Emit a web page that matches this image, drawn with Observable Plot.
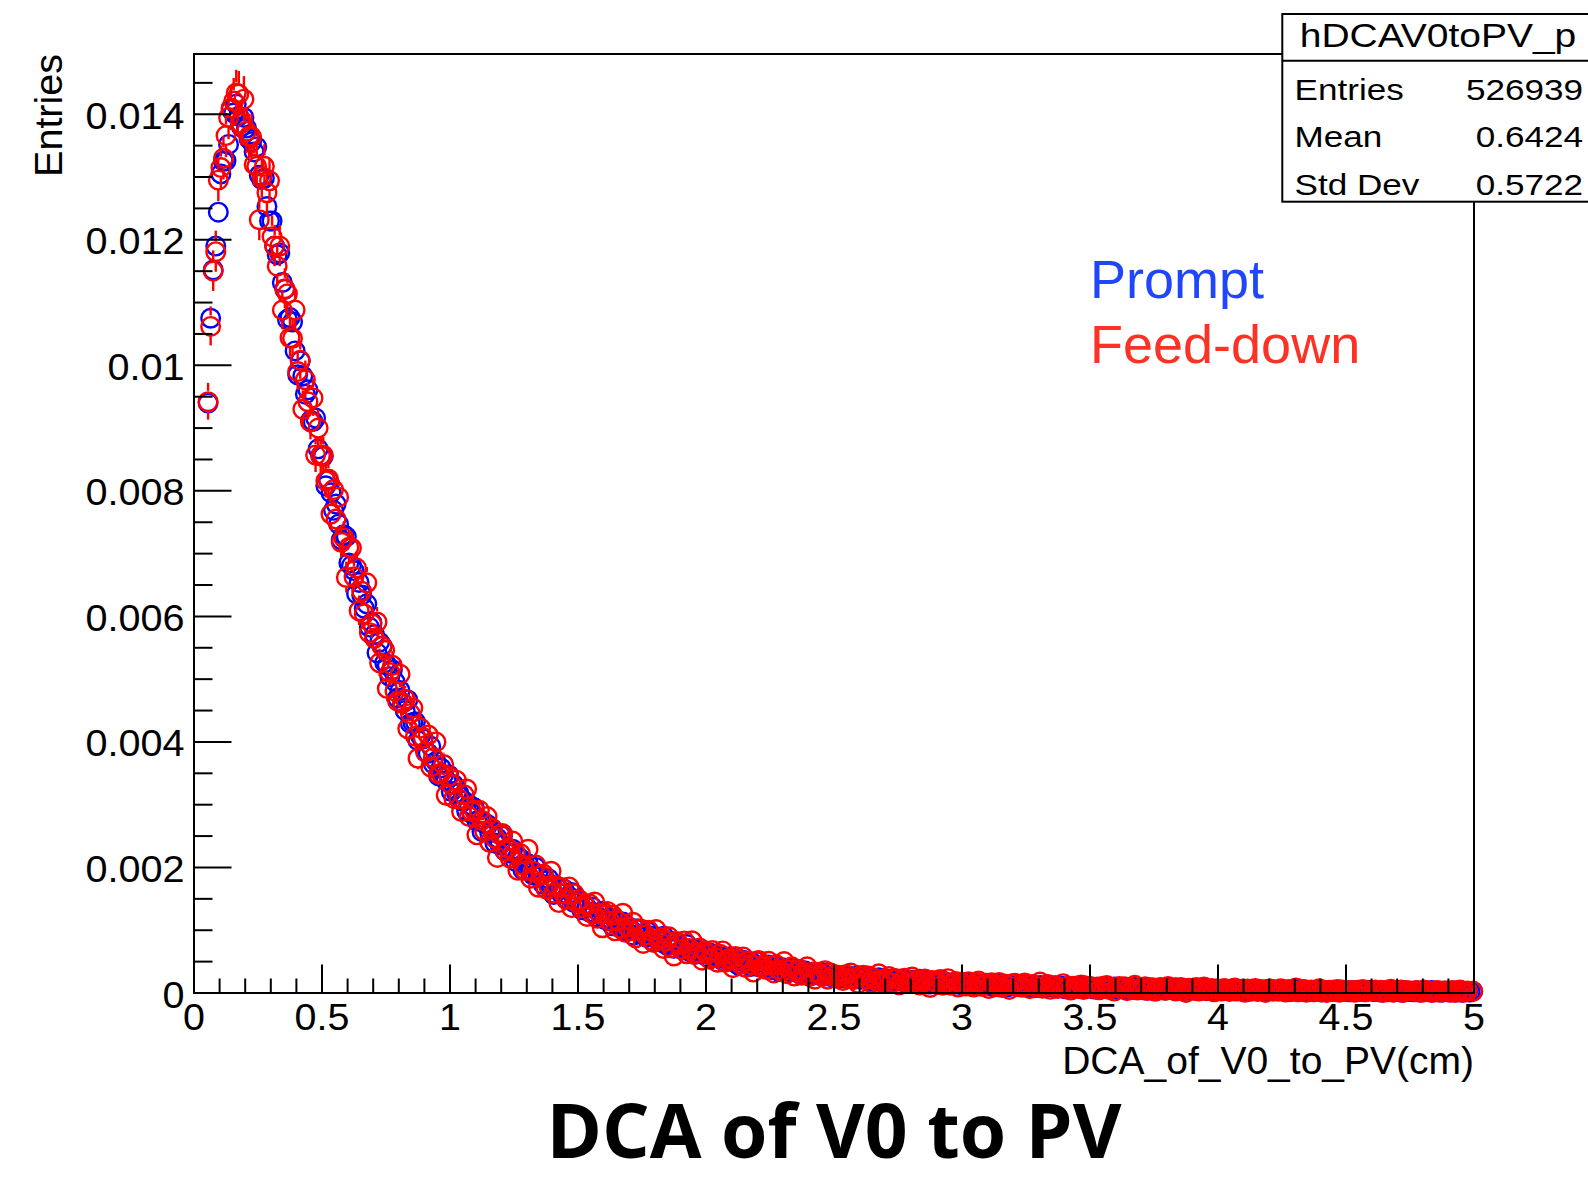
<!DOCTYPE html>
<html>
<head>
<meta charset="utf-8">
<script src="https://cdn.jsdelivr.net/npm/d3@7"></script>
<script src="https://cdn.jsdelivr.net/npm/@observablehq/plot@0.6"></script>
<style>
html, body { margin: 0; padding: 0; background: #fff; overflow: hidden; }
#chart { width: 1588px; height: 1181px; position: relative; }
</style>
</head>
<body>
<div id="chart"></div>
<script>
// Histogram binning (bin width 0.01 cm, first filled bin starts at 0.05)
const binLow = 0.05;
const binWidth = 0.01;

// Prompt (blue) normalised bin contents, bins 0.05-0.06 ... 4.99-5.00
const promptValues = [
94e-4,107.5e-4,115.2e-4,119e-4,124.4e-4,130.5e-4,132.5e-4,132.6e-4,135.2e-4,140.8e-4,
140.2e-4,141.6e-4,139.7e-4,138e-4,139.5e-4,137.8e-4,136.1e-4,135.6e-4,134e-4,134.8e-4,
130.3e-4,129.6e-4,129.8e-4,125.3e-4,123e-4,123e-4,119e-4,117.6e-4,117.9e-4,113.2e-4,
112.1e-4,107.3e-4,107.6e-4,106.9e-4,102.3e-4,98.5e-4,100.7e-4,98.3e-4,95.4e-4,96.1e-4,
91.2e-4,91.05e-4,91.6e-4,86.7e-4,85.6e-4,85.5e-4,80.8e-4,81.7e-4,79.7e-4,76.9e-4,
77.9e-4,74.7e-4,72.2e-4,73e-4,72.7e-4,68.5e-4,68.1e-4,67.3e-4,63.6e-4,65.4e-4,
63.4e-4,61.3e-4,62e-4,58.3e-4,59e-4,57.1e-4,54.2e-4,55.9e-4,55.3e-4,52.6e-4,
52.2e-4,50.4e-4,51.5e-4,49.6e-4,47e-4,48.2e-4,46.2e-4,45e-4,46.7e-4,42.95e-4,
43.1e-4,43.2e-4,40.2e-4,40.9e-4,40.5e-4,38.4e-4,38.2e-4,39.3e-4,36.5e-4,36.9e-4,
34.6e-4,35.85e-4,34.8e-4,33.8e-4,34.75e-4,32.1e-4,33.2e-4,31.9e-4,31.8e-4,30.6e-4,
30.6e-4,29e-4,30e-4,28.6e-4,29.5e-4,27.4e-4,27.55e-4,25.7e-4,27e-4,26.9e-4,
25.55e-4,25.9e-4,23.9e-4,24.7e-4,23.6e-4,25e-4,22.6e-4,22.97e-4,22.3e-4,22.9e-4,
21e-4,21.7e-4,21.4e-4,19.6e-4,20.3e-4,20.6e-4,19.3e-4,18.8e-4,20e-4,18.6e-4,
18.7e-4,17.3e-4,17.9e-4,18.2e-4,16.8e-4,15.7e-4,17.05e-4,16.5e-4,15.8e-4,16.55e-4,
15e-4,15.4e-4,16e-4,14.4e-4,14.4e-4,14.74e-4,13.25e-4,14.05e-4,13.6e-4,12.9e-4,
13.7e-4,12.75e-4,12.1e-4,12.8e-4,13e-4,11.7e-4,11.86e-4,11.85e-4,10.7e-4,11.74e-4,
11.2e-4,10.7e-4,11.3e-4,10.05e-4,10.6e-4,10.16e-4,9.2e-4,10.2e-4,10.2e-4,9.37e-4,
9.46e-4,8.93e-4,9.7e-4,9.1e-4,8.24e-4,8.98e-4,8.4e-4,8.1e-4,9.06e-4,7.67e-4,
7.97e-4,8.22e-4,7.14e-4,7.65e-4,7.67e-4,6.96e-4,7.06e-4,7.72e-4,6.64e-4,6.96e-4,
6.12e-4,6.8e-4,6.48e-4,6.2e-4,6.75e-4,5.75e-4,6.37e-4,5.93e-4,6.03e-4,5.63e-4,
5.77e-4,5.17e-4,5.74e-4,5.26e-4,5.78e-4,4.99e-4,5.15e-4,4.48e-4,5.14e-4,5.2e-4,
4.73e-4,4.98e-4,4.21e-4,4.68e-4,4.31e-4,4.99e-4,4.07e-4,4.32e-4,4.11e-4,4.48e-4,
3.74e-4,4.12e-4,4.11e-4,3.42e-4,3.79e-4,4e-4,3.53e-4,3.39e-4,3.98e-4,3.45e-4,
3.59e-4,3.05e-4,3.39e-4,3.56e-4,3.03e-4,2.65e-4,3.29e-4,3.15e-4,2.9e-4,3.29e-4,
2.67e-4,2.9e-4,3.24e-4,2.62e-4,2.66e-4,2.88e-4,2.31e-4,2.71e-4,2.59e-4,2.34e-4,
2.75e-4,2.41e-4,2.19e-4,2.57e-4,2.73e-4,2.19e-4,2.33e-4,2.38e-4,1.92e-4,2.46e-4,
2.28e-4,2.1e-4,2.43e-4,1.92e-4,2.24e-4,2.07e-4,1.69e-4,2.2e-4,2.26e-4,1.91e-4,
2.01e-4,1.82e-4,2.2e-4,2e-4,1.63e-4,2.02e-4,1.79e-4,1.7e-4,2.19e-4,1.58e-4,
1.76e-4,1.92e-4,1.45e-4,1.73e-4,1.79e-4,1.48e-4,1.57e-4,1.91e-4,1.44e-4,1.63e-4,
1.27e-4,1.62e-4,1.51e-4,1.41e-4,1.71e-4,1.25e-4,1.58e-4,1.4e-4,1.49e-4,1.32e-4,
1.42e-4,1.17e-4,1.47e-4,1.27e-4,1.55e-4,1.19e-4,1.31e-4,0.995e-4,1.36e-4,1.42e-4,
1.21e-4,1.36e-4,0.997e-4,1.26e-4,1.1e-4,1.47e-4,1.03e-4,1.18e-4,1.09e-4,1.31e-4,
0.95e-4,1.17e-4,1.19e-4,0.85e-4,1.065e-4,1.2e-4,0.97e-4,0.92e-4,1.26e-4,0.996e-4,
1.08e-4,0.81e-4,1.02e-4,1.13e-4,0.86e-4,0.67e-4,1.04e-4,0.98e-4,0.865e-4,1.09e-4,
0.77e-4,0.915e-4,1.12e-4,0.79e-4,0.835e-4,0.97e-4,0.65e-4,0.9e-4,0.84e-4,0.7e-4,
0.94e-4,0.76e-4,0.64e-4,0.87e-4,0.97e-4,0.67e-4,0.758e-4,0.8e-4,0.54e-4,0.85e-4,
0.76e-4,0.66e-4,0.86e-4,0.58e-4,0.77e-4,0.68e-4,0.46e-4,0.76e-4,0.8e-4,0.615e-4,
0.675e-4,0.57e-4,0.8e-4,0.69e-4,0.48e-4,0.72e-4,0.59e-4,0.54e-4,0.835e-4,0.49e-4,
0.6e-4,0.7e-4,0.43e-4,0.6e-4,0.63e-4,0.46e-4,0.52e-4,0.73e-4,0.46e-4,0.57e-4,
0.37e-4,0.58e-4,0.517e-4,0.46e-4,0.64e-4,0.38e-4,0.58e-4,0.48e-4,0.53e-4,0.44e-4,
0.51e-4,0.36e-4,0.54e-4,0.43e-4,0.6e-4,0.39e-4,0.46e-4,0.28e-4,0.5e-4,0.54e-4,
0.42e-4,0.51e-4,0.3e-4,0.46e-4,0.37e-4,0.59e-4,0.33e-4,0.43e-4,0.38e-4,0.51e-4,
0.3e-4,0.44e-4,0.45e-4,0.25e-4,0.383e-4,0.46e-4,0.33e-4,0.31e-4,0.51e-4,0.36e-4,
0.41e-4,0.25e-4,0.38e-4,0.45e-4,0.29e-4,0.17e-4,0.41e-4,0.37e-4,0.3e-4,0.44e-4,
0.25e-4,0.34e-4,0.47e-4,0.27e-4,0.3e-4,0.38e-4,0.2e-4,0.35e-4,0.31e-4,0.23e-4,
0.38e-4,0.28e-4,0.21e-4,0.34e-4,0.41e-4,0.23e-4,0.284e-4,0.31e-4,0.155e-4,0.35e-4,
0.3e-4,0.24e-4,0.36e-4,0.19e-4,0.31e-4,0.255e-4,0.13e-4,0.31e-4,0.34e-4,0.22e-4,
0.26e-4,0.2e-4,0.35e-4,0.28e-4,0.15e-4,0.3e-4,0.22e-4,0.19e-4,0.38e-4,0.16e-4,
0.23e-4,0.3e-4,0.13e-4,0.24e-4,0.27e-4,0.16e-4,0.2e-4,0.33e-4,0.16e-4,0.24e-4,
0.11e-4,0.24e-4,0.204e-4,0.17e-4,0.29e-4
];

// Feed-down (red) normalised bin contents, same binning (0 = empty bin, not drawn)
const feeddownValues = [
94.2e-4,106.2e-4,115e-4,118.1e-4,129.5e-4,131.5e-4,133e-4,136.6e-4,139.5e-4,141e-4,
142.1e-4,143.4e-4,143.2e-4,138.5e-4,142.4e-4,137.3e-4,136.5e-4,136.4e-4,132e-4,131.7e-4,
123.2e-4,130.1e-4,131.7e-4,127.5e-4,129.4e-4,120.5e-4,119e-4,115.8e-4,119e-4,108.8e-4,
112.2e-4,111.4e-4,104.4e-4,104.3e-4,108.8e-4,99e-4,100.8e-4,93e-4,97.7e-4,94.2e-4,
91e-4,94.8e-4,85.7e-4,90e-4,85.6e-4,85.7e-4,81.6e-4,81.9e-4,76.3e-4,80.2e-4,
75.5e-4,79e-4,71.8e-4,72.5e-4,66.2e-4,71e-4,70.9e-4,66.3e-4,67.7e-4,60.9e-4,
64e-4,60.4e-4,65.35e-4,57.4e-4,58.8e-4,56.5e-4,59.1e-4,52.6e-4,55.2e-4,54.6e-4,
48.5e-4,51.05e-4,52.2e-4,48.1e-4,46.5e-4,50.8e-4,46.2e-4,46.8e-4,42.1e-4,44.5e-4,
45.4e-4,40.9e-4,37.4e-4,42.2e-4,40.65e-4,38.4e-4,41.1e-4,36e-4,37.5e-4,40e-4,
34.9e-4,35e-4,36.4e-4,31.5e-4,34.5e-4,33.2e-4,31e-4,33.9e-4,30.9e-4,28.9e-4,
31.6e-4,32.5e-4,28.1e-4,28.9e-4,29.1e-4,25.2e-4,29.1e-4,27.5e-4,25.8e-4,28.1e-4,
24e-4,26.2e-4,24.7e-4,21.6e-4,25.2e-4,25.4e-4,22.65e-4,23.1e-4,21.5e-4,24.2e-4,
22.4e-4,19.55e-4,22.2e-4,20.4e-4,19.5e-4,22.9e-4,18.3e-4,19.4e-4,20.4e-4,16.85e-4,
18.75e-4,18.95e-4,16.6e-4,17.1e-4,19.4e-4,15.9e-4,17.1e-4,14.4e-4,16.8e-4,15.8e-4,
14.9e-4,16.9e-4,13.6e-4,15.8e-4,14.4e-4,14.84e-4,13.6e-4,14.1e-4,12.2e-4,14.2e-4,
12.7e-4,14.5e-4,11.9e-4,12.6e-4,10.4e-4,12.7e-4,13e-4,11.45e-4,12.4e-4,9.9e-4,
11.5e-4,10.3e-4,12.7e-4,9.67e-4,10.56e-4,9.9e-4,11.27e-4,8.8e-4,10.2e-4,10.2e-4,
7.9e-4,9.22e-4,10e-4,8.47e-4,8.06e-4,10.1e-4,8.39e-4,8.86e-4,7.08e-4,8.32e-4,
8.95e-4,7.21e-4,5.9e-4,8.2e-4,7.74e-4,6.97e-4,8.3e-4,6.25e-4,7.09e-4,8.32e-4,
6.23e-4,6.44e-4,7.17e-4,5.23e-4,6.65e-4,6.24e-4,5.39e-4,6.77e-4,5.64e-4,4.9e-4,
6.17e-4,6.71e-4,4.91e-4,5.39e-4,5.58e-4,4.04e-4,5.8e-4,5.24e-4,4.62e-4,5.74e-4,
4.06e-4,5.1e-4,4.57e-4,3.34e-4,4.99e-4,5.17e-4,4.08e-4,4.38e-4,3.76e-4,5.04e-4,
4.36e-4,3.2e-4,4.46e-4,3.73e-4,3.44e-4,5.01e-4,3.08e-4,3.66e-4,4.17e-4,2.7e-4,
3.6e-4,3.76e-4,2.82e-4,3.1e-4,4.17e-4,2.72e-4,3.31e-4,2.2e-4,3.31e-4,2.95e-4,
2.64e-4,3.56e-4,2.2e-4,3.21e-4,2.66e-4,2.92e-4,2.44e-4,2.75e-4,1.99e-4,2.92e-4,
2.32e-4,3.19e-4,2.12e-4,2.47e-4,1.54e-4,2.64e-4,2.84e-4,2.21e-4,2.69e-4,1.62e-4,
2.4e-4,1.93e-4,3.05e-4,1.74e-4,2.21e-4,1.96e-4,2.63e-4,1.57e-4,2.24e-4,2.29e-4,
1.3e-4,1.95e-4,2.34e-4,1.69e-4,1.55e-4,2.55e-4,1.79e-4,2.06e-4,1.27e-4,1.88e-4,
2.22e-4,1.44e-4,0.88e-4,1.99e-4,1.82e-4,1.48e-4,2.15e-4,1.22e-4,1.66e-4,2.28e-4,
1.32e-4,1.45e-4,1.84e-4,0.94e-4,1.66e-4,1.49e-4,1.11e-4,1.81e-4,1.3e-4,0.96e-4,
1.62e-4,1.92e-4,1.07e-4,1.33e-4,1.46e-4,0.72e-4,1.63e-4,1.38e-4,1.09e-4,1.69e-4,
0.87e-4,1.42e-4,1.18e-4,0.57e-4,1.45e-4,1.56e-4,1.03e-4,1.21e-4,0.91e-4,1.6e-4,
1.27e-4,0.69e-4,1.37e-4,1.01e-4,0.88e-4,1.74e-4,0.74e-4,1.06e-4,1.36e-4,0.59e-4,
1.09e-4,1.2e-4,0.71e-4,0.88e-4,1.49e-4,0.71e-4,1.05e-4,0.46e-4,1.09e-4,0.91e-4,
0.755e-4,1.29e-4,0.54e-4,1.12e-4,0.83e-4,0.99e-4,0.73e-4,0.92e-4,0.5e-4,1.03e-4,
0.7e-4,1.2e-4,0.6e-4,0.81e-4,0.3e-4,0.92e-4,1.05e-4,0.7e-4,0.98e-4,0.37e-4,
0.83e-4,0.57e-4,1.22e-4,0.48e-4,0.75e-4,0.61e-4,1e-4,0.4e-4,0.79e-4,0.83e-4,
0.26e-4,0.646e-4,0.88e-4,0.51e-4,0.44e-4,1.02e-4,0.59e-4,0.75e-4,0.3e-4,0.66e-4,
0.86e-4,0.42e-4,0.09e-4,0.75e-4,0.65e-4,0.47e-4,0.86e-4,0.32e-4,0.58e-4,0.95e-4,
0.4e-4,0.48e-4,0.71e-4,0.19e-4,0.61e-4,0.52e-4,0.3e-4,0.72e-4,0.42e-4,0.23e-4,
0.62e-4,0.8e-4,0.3e-4,0.46e-4,0.54e-4,0.11e-4,0.65e-4,0.51e-4,0.34e-4,0.7e-4,
0.22e-4,0.55e-4,0.41e-4,0.09e-4,0.58e-4,0.65e-4,0.34e-4,0.45e-4,0.27e-4,0.69e-4,
0.49e-4,0.15e-4,0.56e-4,0.35e-4,0.27e-4,0.79e-4,0.19e-4,0.39e-4,0.57e-4,0.11e-4,
0.42e-4,0.48e-4,0.19e-4,0.3e-4,0.67e-4,0.2e-4,0.41e-4,0.09e-4,0.44e-4,0.33e-4,
0.24e-4,0.57e-4,0.12e-4,0.47e-4,0.3e-4,0.4e-4,0.24e-4,0.36e-4,0.11e-4,0.44e-4,
0.23e-4,0.55e-4,0.18e-4,0.31e-4,0,0.38e-4,0.46e-4,0.25e-4,0.42e-4,0.09e-4,
0.34e-4,0.18e-4,0.58e-4,0.13e-4,0.3e-4,0.22e-4,0.46e-4,0.09e-4,0.33e-4,0.36e-4,
0,0.25e-4,0.39e-4,0.17e-4,0.12e-4,0.49e-4,0.22e-4,0.32e-4,0.09e-4,0.27e-4,
0.4e-4,0.13e-4,0,0.34e-4,0.28e-4,0.16e-4,0.41e-4,0.09e-4,0.24e-4,0.47e-4,
0.13e-4,0.18e-4,0.33e-4,0,0.27e-4
];

// Entries used for the Poisson error bars of the normalised histograms
const promptEntries = 526939;
const feeddownEntries = 110000;

// Axes
const xDomain = [0, 5];
const yDomain = [0, 0.01496];
const xTicks = [0, 0.5, 1, 1.5, 2, 2.5, 3, 3.5, 4, 4.5, 5];
const xTickLabels = ["0", "0.5", "1", "1.5", "2", "2.5", "3", "3.5", "4", "4.5", "5"];
const yTicks = [0, 0.002, 0.004, 0.006, 0.008, 0.01, 0.012, 0.014];
const yTickLabels = ["0", "0.002", "0.004", "0.006", "0.008", "0.01", "0.012", "0.014"];
const xMinorTicks = d3.range(1, 50).filter(i => i % 5 !== 0).map(i => i / 10);
const yMinorTicks = d3.range(1, 30).filter(i => i % 4 !== 0).map(i => i * 0.0005);

const xTitle = "DCA_of_V0_to_PV(cm)";
const yTitle = "Entries";
const chartTitle = "DCA of V0 to PV";
const statsTitle = "hDCAV0toPV_p";
const statsLabels = ["Entries", "Mean", "Std Dev"];
const statsValues = ["526939", "0.6424", "0.5722"];
const legendLabels = ["Prompt", "Feed-down"];
const legendColors = ["#1f46fb", "#fb3225"];

// ---------- layout ----------
const W = 1588, H = 1181;
const mL = 193.5, mR = 114.5, mT = 53.5, mB = 188.5;
const plotW = W - mL - mR, plotH = H - mT - mB;
const pxPerY = plotH / (yDomain[1] - yDomain[0]);
const markerR = 9.3;
const errGap = 10.4 / pxPerY;
const font = "'Liberation Sans', Arial, Helvetica, sans-serif";

const toData = (vals, N) => vals.map((v, i) => ({
  x: binLow + (i + 0.5) * binWidth,
  y: v,
  err: Math.sqrt(v / N)
})).filter(d => d.y > 0);

const promptData = toData(promptValues, promptEntries);
const feedData = toData(feeddownValues, feeddownEntries);
const feedErr = feedData.filter(d => d.err > errGap);

const plot = Plot.plot({
  width: W,
  height: H,
  marginLeft: mL, marginRight: mR, marginTop: mT, marginBottom: mB,
  x: {domain: xDomain},
  y: {domain: yDomain},
  style: {fontFamily: font, background: "white", color: "black", overflow: "visible"},
  marks: [
    Plot.dot(promptData, {x: "x", y: "y", r: markerR, stroke: "#0000ff", strokeWidth: 2.4, fill: "none"}),
    Plot.ruleX(feedErr, {x: "x", y1: d => d.y + errGap, y2: d => d.y + d.err, stroke: "#ff0000", strokeWidth: 2.4}),
    Plot.ruleX(feedErr, {x: "x", y1: d => d.y - d.err, y2: d => d.y - errGap, stroke: "#ff0000", strokeWidth: 2.4}),
    Plot.dot(feedData, {x: "x", y: "y", r: markerR, stroke: "#ff0000", strokeWidth: 2.4, fill: "none"}),
    Plot.frame({stroke: "black", strokeWidth: 2}),
    Plot.tickY(yTicks, {y: d => d, insetRight: plotW - 38, stroke: "black", strokeWidth: 2}),
    Plot.tickY(yMinorTicks, {y: d => d, insetRight: plotW - 19, stroke: "black", strokeWidth: 2}),
    Plot.tickX(xTicks, {x: d => d, insetTop: plotH - 28, stroke: "black", strokeWidth: 2}),
    Plot.tickX(xMinorTicks, {x: d => d, insetTop: plotH - 14, stroke: "black", strokeWidth: 2}),
    Plot.axisY({ticks: yTicks, tickSize: 0, tickPadding: 9.5, fontSize: 36, dy: 3,
      tickFormat: d => yTickLabels[yTicks.indexOf(d)], label: null}),
    Plot.axisX({ticks: xTicks, tickSize: 0, tickPadding: 11, fontSize: 36.5,
      tickFormat: d => xTickLabels[xTicks.indexOf(d)], label: null})
  ]
});

const host = document.getElementById("chart");
host.append(plot);
const svg = d3.select(host).select("svg");

// widen the tick labels slightly, like the original rendering
function stretch(sel, k) {
  sel.each(function () {
    const w = this.getComputedTextLength();
    this.setAttribute("textLength", (w * k).toFixed(2));
    this.setAttribute("lengthAdjust", "spacingAndGlyphs");
  });
}
stretch(svg.selectAll('[aria-label="y-axis tick label"] text'), 1.1);
stretch(svg.selectAll('[aria-label="x-axis tick label"] text'), 1.08);

function addText(str, o) {
  let tr = `translate(${o.x},${o.y})`;
  if (o.rotate) tr += ` rotate(${o.rotate})`;
  if (o.sx) tr += ` scale(${o.sx},1)`;
  return svg.append("text")
    .attr("transform", tr)
    .attr("text-anchor", o.anchor || "start")
    .attr("font-family", o.family || font)
    .attr("font-weight", o.weight || 400)
    .attr("font-size", o.size)
    .attr("fill", o.fill || "black")
    .text(str);
}

// axis titles
addText(yTitle, {x: 62, y: 54, rotate: -90, anchor: "end", size: 39.5});
addText(xTitle, {x: 1474, y: 1074, anchor: "end", size: 39});

// statistics box
const stats = svg.append("g");
stats.append("rect").attr("x", 1282.3).attr("y", 14).attr("width", 320).attr("height", 187.7)
  .attr("fill", "white").attr("stroke", "black").attr("stroke-width", 2);
stats.append("line").attr("x1", 1282.3).attr("x2", 1600).attr("y1", 60.7).attr("y2", 60.7)
  .attr("stroke", "black").attr("stroke-width", 2);
addText(statsTitle, {x: 1438, y: 47.3, anchor: "middle", size: 32.5, sx: 1.2});
const rowY = [99.5, 146.8, 195];
statsLabels.forEach((s, i) => addText(s, {x: 1294.6, y: rowY[i], size: 29.5, sx: 1.19}));
statsValues.forEach((s, i) => addText(s, {x: 1583, y: rowY[i], anchor: "end", size: 29.5, sx: 1.19}));

// legend
const legendY = [298.3, 363.3];
legendLabels.forEach((s, i) => addText(s, {x: 1090, y: legendY[i], size: 54, fill: legendColors[i]}));

// bottom title
addText(chartTitle, {x: 834, y: 1158, anchor: "middle", size: 75, weight: 700,
  family: "'Open Sans', 'Noto Sans', sans-serif"});
</script>
</body>
</html>
